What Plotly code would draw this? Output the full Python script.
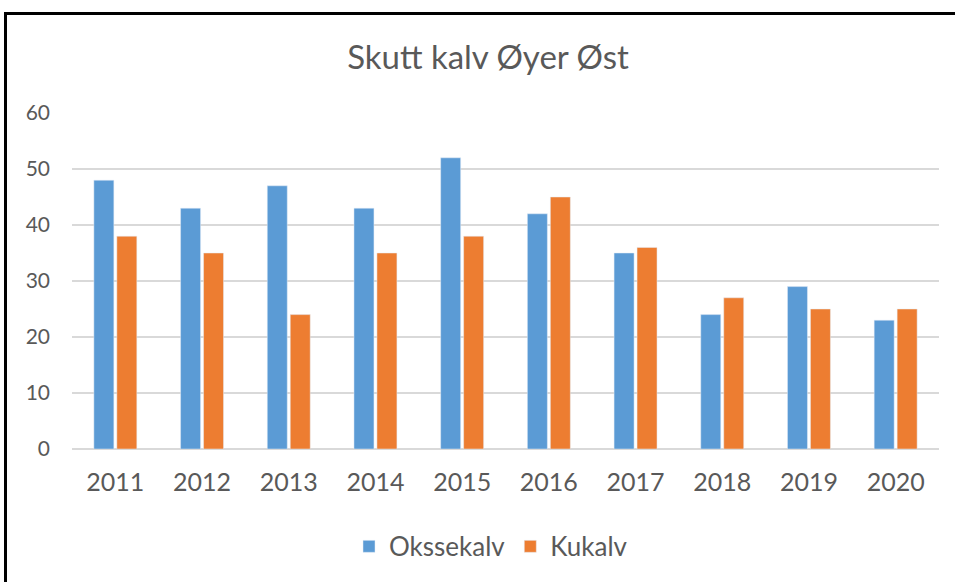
import plotly.graph_objects as go

years = ["2011", "2012", "2013", "2014", "2015", "2016", "2017", "2018", "2019", "2020"]
okssekalv = [48, 43, 47, 43, 52, 42, 35, 24, 29, 23]
kukalv = [38, 35, 24, 35, 38, 45, 36, 27, 25, 25]

W, H = 955, 582
L, R, T, B = 72, 16, 113, 131
pw, ph = W - L - R, H - T - B

def px(x):
    return (x - L) / pw

def py(y):
    return (H - B - y) / ph

font = "Lato, Calibri, sans-serif"
grey = "#595959"

fig = go.Figure()
fig.add_trace(go.Bar(name="Okssekalv", x=years, y=okssekalv, marker_color="#5b9bd5"))
fig.add_trace(go.Bar(name="Kukalv", x=years, y=kukalv, marker_color="#ed7d31"))

fig.update_layout(
    width=W, height=H, autosize=False,
    margin=dict(l=L, r=R, t=T, b=B),
    paper_bgcolor="white", plot_bgcolor="white",
    barmode="group", bargap=0.47, bargroupgap=0.13,
    title=dict(text="Skutt kalv Øyer Øst", x=488 / W, xanchor="center", xref="container",
               y=1 - 57 / H, yanchor="middle", yref="container",
               font=dict(family=font, size=33, color=grey)),
    legend=dict(orientation="h", x=px(491), xanchor="center", y=py(549), yanchor="middle",
                font=dict(family=font, size=26, color=grey), itemwidth=30,
                traceorder="normal"),
    xaxis=dict(tickfont=dict(family=font, size=25, color=grey), showgrid=False,
               showline=False, ticks="", ticklabelstandoff=16),
    yaxis=dict(range=[0, 60], dtick=10, tickfont=dict(family=font, size=21, color=grey),
               showgrid=True, gridcolor="#d9d9d9", gridwidth=1.5, zeroline=True,
               zerolinecolor="#d9d9d9", zerolinewidth=1.5, ticks="", showline=False,
               ticklabelstandoff=21),
    shapes=[
        dict(type="line", xref="paper", yref="paper", x0=px(4), x1=px(960), y0=py(13), y1=py(13),
             line=dict(color="black", width=3)),
        dict(type="line", xref="paper", yref="paper", x0=px(5.5), x1=px(5.5), y0=py(12), y1=py(590),
             line=dict(color="black", width=3)),
    ],
)

fig.write_html("out.html", config={"displayModeBar": False},
               post_script="document.body.style.margin='0';document.body.style.overflow='hidden';")
